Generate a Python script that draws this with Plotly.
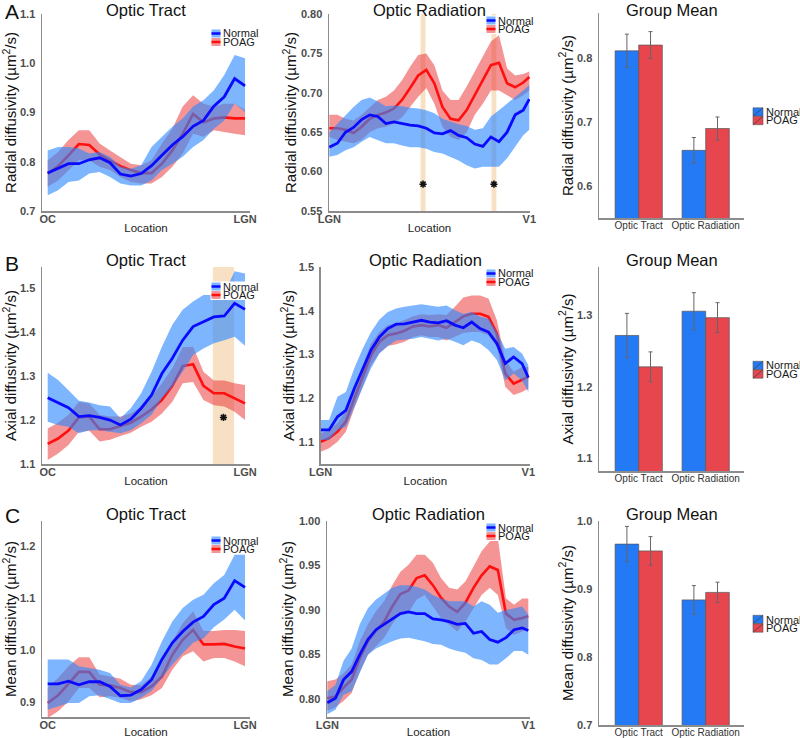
import plotly.graph_objects as go

W, H = 800, 738
FONT = "Liberation Sans, Arial, Helvetica, sans-serif"

# ------------------------------------------------------------------ data
groups = ["Normal", "POAG"]
regions = ["Optic Tract", "Optic Radiation"]
ot_nodes = list(range(1, 21))
or_nodes = [1, 5, 9, 13, 17, 21, 25, 29, 33, 37, 41, 45, 49, 53, 57, 61,
            65, 69, 73, 77, 81, 85, 89, 93, 97, 100]
ot_ticks = ["OC", "LGN"]
or_ticks = ["LGN", "V1"]
measure_names = ["Radial diffusivity", "Axial diffusivity", "Mean diffusivity"]
panel_letters = ["A", "B", "C"]
panel_titles = ["Optic Tract", "Optic Radiation", "Group Mean"]

# Radial diffusivity - optic tract
rd_ot_normal = [0.777, 0.786, 0.796, 0.796, 0.804, 0.808, 0.798, 0.775, 0.771, 0.776,
                0.792, 0.813, 0.834, 0.851, 0.872, 0.884, 0.913, 0.932, 0.969, 0.954]
rd_ot_normal_hi = [0.823, 0.830, 0.830, 0.827, 0.817, 0.820, 0.810, 0.790, 0.786, 0.793,
                   0.830, 0.851, 0.871, 0.888, 0.912, 0.925, 0.945, 0.976, 1.017, 1.010]
rd_ot_normal_lo = [0.732, 0.742, 0.759, 0.762, 0.776, 0.779, 0.769, 0.756, 0.752, 0.752,
                   0.762, 0.783, 0.796, 0.810, 0.830, 0.844, 0.867, 0.884, 0.918, 0.901]
rd_ot_poag = [0.776, 0.791, 0.813, 0.836, 0.834, 0.815, 0.803, 0.791, 0.783, 0.777,
              0.777, 0.796, 0.823, 0.857, 0.897, 0.880, 0.888, 0.890, 0.888, 0.888]
rd_ot_poag_hi = [0.803, 0.820, 0.844, 0.864, 0.864, 0.837, 0.823, 0.810, 0.796, 0.793,
                 0.803, 0.837, 0.867, 0.912, 0.935, 0.918, 0.912, 0.918, 0.918, 0.905]
rd_ot_poag_lo = [0.749, 0.762, 0.783, 0.803, 0.803, 0.790, 0.783, 0.769, 0.759, 0.756,
                 0.756, 0.769, 0.790, 0.817, 0.857, 0.851, 0.864, 0.861, 0.857, 0.854]

# Radial diffusivity - optic radiation
rd_or_normal = [0.631, 0.636, 0.650, 0.656, 0.666, 0.672, 0.670, 0.661, 0.663, 0.661, 0.659, 0.658, 0.655,
                0.649, 0.648, 0.652, 0.646, 0.643, 0.635, 0.632, 0.644, 0.638, 0.650, 0.672, 0.678, 0.692]
rd_or_normal_hi = [0.650, 0.661, 0.672, 0.682, 0.691, 0.694, 0.689, 0.683, 0.684, 0.683, 0.681, 0.680, 0.678,
                   0.674, 0.667, 0.663, 0.660, 0.658, 0.653, 0.655, 0.670, 0.678, 0.686, 0.695, 0.703, 0.710]
rd_or_normal_lo = [0.619, 0.621, 0.627, 0.631, 0.638, 0.644, 0.640, 0.636, 0.636, 0.633, 0.631, 0.631, 0.629,
                   0.625, 0.623, 0.619, 0.614, 0.608, 0.604, 0.606, 0.606, 0.606, 0.617, 0.631, 0.646, 0.653]
rd_or_poag = [0.655, 0.655, 0.653, 0.649, 0.657, 0.667, 0.672, 0.675, 0.680, 0.691, 0.706, 0.722, 0.729,
              0.712, 0.682, 0.667, 0.665, 0.678, 0.697, 0.717, 0.735, 0.738, 0.712, 0.707, 0.713, 0.720]
rd_or_poag_hi = [0.672, 0.672, 0.667, 0.665, 0.672, 0.682, 0.691, 0.695, 0.703, 0.716, 0.733, 0.748, 0.750,
                 0.735, 0.703, 0.691, 0.691, 0.708, 0.727, 0.746, 0.765, 0.773, 0.731, 0.722, 0.724, 0.727]
rd_or_poag_lo = [0.644, 0.640, 0.638, 0.636, 0.640, 0.650, 0.655, 0.657, 0.661, 0.669, 0.682, 0.695, 0.706,
                 0.686, 0.657, 0.644, 0.640, 0.650, 0.672, 0.686, 0.703, 0.703, 0.697, 0.691, 0.697, 0.703]

# Axial diffusivity - optic tract
ad_ot_normal = [1.251, 1.240, 1.228, 1.208, 1.210, 1.206, 1.200, 1.189, 1.202, 1.227,
                1.257, 1.306, 1.341, 1.382, 1.413, 1.424, 1.435, 1.437, 1.466, 1.452]
ad_ot_normal_hi = [1.308, 1.291, 1.268, 1.244, 1.240, 1.234, 1.231, 1.204, 1.227, 1.261,
                   1.310, 1.367, 1.417, 1.451, 1.470, 1.485, 1.485, 1.489, 1.539, 1.534]
ad_ot_normal_lo = [1.196, 1.189, 1.185, 1.170, 1.177, 1.177, 1.174, 1.170, 1.177, 1.193,
                   1.212, 1.250, 1.276, 1.310, 1.348, 1.363, 1.375, 1.382, 1.390, 1.369]
ad_ot_poag = [1.146, 1.158, 1.176, 1.206, 1.208, 1.179, 1.179, 1.187, 1.194, 1.208,
              1.224, 1.246, 1.278, 1.323, 1.327, 1.278, 1.261, 1.261, 1.250, 1.238]
ad_ot_poag_hi = [1.181, 1.194, 1.212, 1.242, 1.238, 1.212, 1.208, 1.208, 1.215, 1.231,
                 1.253, 1.284, 1.318, 1.366, 1.367, 1.310, 1.290, 1.290, 1.284, 1.280]
ad_ot_poag_lo = [1.109, 1.124, 1.143, 1.173, 1.176, 1.151, 1.155, 1.164, 1.171, 1.185,
                 1.196, 1.215, 1.242, 1.284, 1.287, 1.246, 1.234, 1.231, 1.219, 1.200]

# Axial diffusivity - optic radiation
ad_or_normal = [1.127, 1.127, 1.157, 1.172, 1.222, 1.268, 1.310, 1.340, 1.359, 1.369, 1.370, 1.374, 1.378,
                1.374, 1.372, 1.377, 1.367, 1.361, 1.374, 1.359, 1.351, 1.325, 1.279, 1.294, 1.279, 1.247]
ad_or_normal_hi = [1.150, 1.150, 1.203, 1.214, 1.268, 1.313, 1.351, 1.380, 1.397, 1.405, 1.409, 1.412, 1.415,
                   1.412, 1.409, 1.412, 1.401, 1.393, 1.397, 1.386, 1.382, 1.351, 1.313, 1.317, 1.302, 1.275]
ad_or_normal_lo = [1.104, 1.104, 1.127, 1.134, 1.180, 1.222, 1.268, 1.302, 1.319, 1.332, 1.334, 1.336, 1.340,
                   1.336, 1.332, 1.336, 1.329, 1.321, 1.332, 1.325, 1.310, 1.287, 1.241, 1.256, 1.241, 1.214]
ad_or_poag = [1.100, 1.108, 1.123, 1.146, 1.199, 1.249, 1.298, 1.329, 1.344, 1.348, 1.354, 1.364, 1.367,
              1.364, 1.367, 1.361, 1.374, 1.387, 1.393, 1.393, 1.386, 1.348, 1.256, 1.233, 1.242, 1.249]
ad_or_poag_hi = [1.119, 1.127, 1.143, 1.169, 1.222, 1.275, 1.325, 1.351, 1.367, 1.370, 1.378, 1.387, 1.392,
                 1.390, 1.392, 1.390, 1.409, 1.430, 1.435, 1.435, 1.428, 1.378, 1.287, 1.260, 1.271, 1.271]
ad_or_poag_lo = [1.077, 1.085, 1.100, 1.123, 1.176, 1.226, 1.275, 1.303, 1.319, 1.323, 1.329, 1.340, 1.344,
                 1.340, 1.340, 1.332, 1.340, 1.349, 1.351, 1.351, 1.344, 1.317, 1.226, 1.207, 1.214, 1.222]

# Mean diffusivity - optic tract
md_ot_normal = [0.935, 0.935, 0.940, 0.933, 0.939, 0.939, 0.930, 0.912, 0.913, 0.924,
                0.943, 0.982, 1.014, 1.036, 1.054, 1.065, 1.088, 1.100, 1.134, 1.121]
md_ot_normal_hi = [0.982, 0.982, 0.982, 0.969, 0.966, 0.962, 0.956, 0.933, 0.928, 0.940,
                   0.972, 1.017, 1.055, 1.081, 1.097, 1.107, 1.129, 1.145, 1.184, 1.184]
md_ot_normal_lo = [0.885, 0.892, 0.898, 0.898, 0.911, 0.913, 0.906, 0.898, 0.898, 0.908,
                   0.921, 0.946, 0.972, 0.994, 1.014, 1.023, 1.044, 1.059, 1.078, 1.057]
md_ot_poag = [0.898, 0.913, 0.935, 0.958, 0.958, 0.933, 0.932, 0.927, 0.919, 0.919,
              0.930, 0.949, 0.991, 1.020, 1.039, 1.011, 1.011, 1.012, 1.007, 1.003]
md_ot_poag_hi = [0.928, 0.946, 0.969, 0.986, 0.986, 0.953, 0.949, 0.945, 0.933, 0.932,
                 0.948, 0.975, 1.017, 1.052, 1.075, 1.037, 1.037, 1.039, 1.039, 1.037]
md_ot_poag_lo = [0.869, 0.882, 0.901, 0.927, 0.927, 0.909, 0.911, 0.908, 0.901, 0.905,
                 0.913, 0.927, 0.962, 0.988, 0.998, 0.978, 0.985, 0.985, 0.978, 0.969]

# Mean diffusivity - optic radiation
md_or_normal = [0.796, 0.801, 0.822, 0.831, 0.850, 0.867, 0.878, 0.884, 0.890, 0.896, 0.898, 0.896, 0.896,
                0.890, 0.889, 0.887, 0.884, 0.885, 0.874, 0.876, 0.867, 0.864, 0.869, 0.878, 0.880, 0.877]
md_or_normal_hi = [0.809, 0.816, 0.843, 0.857, 0.884, 0.902, 0.912, 0.919, 0.925, 0.928, 0.928, 0.926, 0.923,
                   0.917, 0.913, 0.910, 0.910, 0.910, 0.904, 0.910, 0.906, 0.897, 0.900, 0.902, 0.904, 0.895]
md_or_normal_lo = [0.783, 0.788, 0.805, 0.809, 0.829, 0.850, 0.857, 0.861, 0.865, 0.868, 0.869, 0.867, 0.865,
                   0.862, 0.861, 0.857, 0.854, 0.852, 0.846, 0.844, 0.839, 0.839, 0.846, 0.854, 0.854, 0.850]
md_or_poag = [0.801, 0.803, 0.813, 0.822, 0.846, 0.865, 0.877, 0.887, 0.904, 0.918, 0.922, 0.936, 0.939,
              0.928, 0.914, 0.904, 0.898, 0.908, 0.925, 0.939, 0.949, 0.945, 0.896, 0.889, 0.891, 0.893]
md_or_poag_hi = [0.820, 0.822, 0.829, 0.839, 0.865, 0.884, 0.899, 0.910, 0.928, 0.943, 0.951, 0.962, 0.962,
                 0.953, 0.936, 0.925, 0.923, 0.932, 0.949, 0.966, 0.977, 0.981, 0.913, 0.906, 0.913, 0.913]
md_or_poag_lo = [0.787, 0.791, 0.798, 0.807, 0.831, 0.850, 0.859, 0.869, 0.884, 0.897, 0.897, 0.912, 0.917,
                 0.904, 0.891, 0.884, 0.876, 0.887, 0.902, 0.917, 0.925, 0.917, 0.880, 0.872, 0.876, 0.880]

# Group means (bars) with error bars
rd_bar_normal = [0.811, 0.656]
rd_bar_normal_err = [0.026, 0.020]
rd_bar_poag = [0.820, 0.690]
rd_bar_poag_err = [0.021, 0.018]
ad_bar_normal = [1.272, 1.306]
ad_bar_normal_err = [0.031, 0.026]
ad_bar_poag = [1.228, 1.297]
ad_bar_poag_err = [0.021, 0.021]
md_bar_normal = [0.966, 0.884]
md_bar_normal_err = [0.026, 0.021]
md_bar_poag = [0.956, 0.895]
md_bar_poag_err = [0.021, 0.015]

# Significant locations (node ranges) and asterisk heights
rd_or_sig_start = [46.2, 81.3]
rd_or_sig_end = [48.6, 83.7]
rd_or_star_y = [0.584, 0.584]
ad_ot_sig_start = [16.9]
ad_ot_sig_end = [18.95]
ad_ot_star_y = [1.206]

# ------------------------------------------------------------------ style
BLUE = "#0a0aff"
RED = "#ff1010"
BLUE_BAND = "rgba(45,135,255,0.62)"
RED_BAND = "rgba(235,60,60,0.55)"
BAR_BLUE = "#2479f5"
BAR_RED = "#e8464f"
SIG = "#f7e0c3"
AX = "#8c8c8c"
TICK = "#4d4d4d"


def fx(p):
    return p / W


def fy(p):
    return 1 - p / H


# pixel boxes (left, right, top, bottom) for each panel
geom = [
    [(42, 250, 14, 211), (329, 530, 14, 211), (599, 744, 13, 218)],
    [(42, 250, 267, 464), (320.7, 530, 267, 464), (599, 744, 267, 471)],
    [(42, 250, 521, 717), (327, 530, 521, 717), (599, 744, 521, 725)],
]
xranges = [
    [[0.451, 20.48], [0.85, 100.35], [-0.593, 1.572]],
    [[0.451, 20.48], [1.0, 100.8], [-0.593, 1.572]],
    [[0.451, 20.48], [0.85, 100.84], [-0.593, 1.572]],
]
yranges = [
    [[0.7, 1.1], [0.55, 0.80], [0.5506, 0.870]],
    [[1.1, 1.5486], [1.049, 1.5], [1.082, 1.368]],
    [[0.871, 1.249], [0.780, 1.0], [0.7, 1.0]],
]
yticks = [
    [[0.7, 0.8, 0.9, 1.0, 1.1], [0.55, 0.60, 0.65, 0.70, 0.75, 0.80], [0.6, 0.7, 0.8]],
    [[1.1, 1.2, 1.3, 1.4, 1.5], [1.1, 1.2, 1.3, 1.4, 1.5], [1.1, 1.2, 1.3]],
    [[0.9, 1.0, 1.1, 1.2], [0.80, 0.85, 0.90, 0.95, 1.00], [0.7, 0.8, 0.9, 1.0]],
]
yfmt = [[".1f", ".2f", ".1f"], [".1f", ".1f", ".1f"], [".1f", ".2f", ".1f"]]
ystandoff = [[1, 0, 0], [1, 0, 0], [1, 1, 0]]

line_data = [
    [(rd_ot_normal, rd_ot_normal_lo, rd_ot_normal_hi, rd_ot_poag, rd_ot_poag_lo, rd_ot_poag_hi),
     (rd_or_normal, rd_or_normal_lo, rd_or_normal_hi, rd_or_poag, rd_or_poag_lo, rd_or_poag_hi)],
    [(ad_ot_normal, ad_ot_normal_lo, ad_ot_normal_hi, ad_ot_poag, ad_ot_poag_lo, ad_ot_poag_hi),
     (ad_or_normal, ad_or_normal_lo, ad_or_normal_hi, ad_or_poag, ad_or_poag_lo, ad_or_poag_hi)],
    [(md_ot_normal, md_ot_normal_lo, md_ot_normal_hi, md_ot_poag, md_ot_poag_lo, md_ot_poag_hi),
     (md_or_normal, md_or_normal_lo, md_or_normal_hi, md_or_poag, md_or_poag_lo, md_or_poag_hi)],
]
bar_data = [
    (rd_bar_normal, rd_bar_normal_err, rd_bar_poag, rd_bar_poag_err),
    (ad_bar_normal, ad_bar_normal_err, ad_bar_poag, ad_bar_poag_err),
    (md_bar_normal, md_bar_normal_err, md_bar_poag, md_bar_poag_err),
]
sig_data = {
    (0, 1): (rd_or_sig_start, rd_or_sig_end, rd_or_star_y),
    (1, 0): (ad_ot_sig_start, ad_ot_sig_end, ad_ot_star_y),
}

fig = go.Figure()
shapes = []
annotations = []
layout_axes = {}

for r in range(3):
    for c in range(3):
        idx = r * 3 + c + 1
        xs = "" if idx == 1 else str(idx)
        xa, ya = "x" + xs, "y" + xs
        L, R, T, B = geom[r][c]

        # ---- axes
        xaxis = dict(
            domain=[fx(L), fx(R)], range=xranges[r][c], anchor=ya, automargin=False,
            showline=True, linecolor=AX, linewidth=1.5, showgrid=False, zeroline=False,
            ticks="", ticklabelstandoff=-3,
            tickfont=dict(family=FONT, size=11, color=TICK, weight="bold"),
            fixedrange=True,
        )
        yaxis = dict(
            domain=[fy(B), fy(T)], range=yranges[r][c], anchor=xa, automargin=False,
            showline=True, linecolor=AX, linewidth=1.5, showgrid=False, zeroline=False,
            ticks="", ticklabelstandoff=3,
            tickvals=yticks[r][c], tickformat=yfmt[r][c],
            tickfont=dict(family=FONT, size=11, color=TICK, weight="bold"),
            title=dict(text=f"{measure_names[r]} (µm<sup>2</sup>/s)",
                       font=dict(family=FONT, size=15, color="#111"),
                       standoff=ystandoff[r][c]),
            fixedrange=True,
        )
        if c < 2:
            nodes = ot_nodes if c == 0 else or_nodes
            labels = ot_ticks if c == 0 else or_ticks
            xaxis.update(tickvals=[nodes[0], nodes[-1]], ticktext=labels,
                         title=dict(text="Location", font=dict(family=FONT, size=11.5, color="#222"),
                                    standoff=0))
        else:
            xaxis.update(type="category", categoryorder="array", categoryarray=regions,
                         tickfont=dict(family=FONT, size=10, color="#333"))
        layout_axes["xaxis" + xs] = xaxis
        layout_axes["yaxis" + xs] = yaxis

        # ---- panel title
        ty = T - 7 if r > 0 else 10
        annotations.append(dict(
            text=panel_titles[c], x=fx((L + R) / 2), y=fy(ty), xref="paper", yref="paper",
            xanchor="center", yanchor="middle", showarrow=False,
            font=dict(family=FONT, size=16.5, color="#111")))

        if c < 2:
            nodes = ot_nodes if c == 0 else or_nodes
            nm, nlo, nhi, pm, plo, phi = line_data[r][c]

            # significance shading
            if (r, c) in sig_data:
                s0, s1, sy = sig_data[(r, c)]
                for a, b in zip(s0, s1):
                    shapes.append(dict(type="rect", xref=xa, yref=ya + " domain",
                                       x0=a, x1=b, y0=0, y1=1, fillcolor=SIG,
                                       line=dict(width=0), layer="below"))

            fig.add_trace(go.Scatter(
                x=nodes + nodes[::-1], y=phi + plo[::-1], fill="toself", fillcolor=RED_BAND,
                mode="lines", line=dict(width=0), hoverinfo="skip", showlegend=False,
                xaxis=xa, yaxis=ya))
            fig.add_trace(go.Scatter(
                x=nodes, y=pm, mode="lines", line=dict(color=RED, width=2.6),
                name=groups[1], showlegend=False, xaxis=xa, yaxis=ya))
            fig.add_trace(go.Scatter(
                x=nodes + nodes[::-1], y=nhi + nlo[::-1], fill="toself", fillcolor=BLUE_BAND,
                mode="lines", line=dict(width=0), hoverinfo="skip", showlegend=False,
                xaxis=xa, yaxis=ya))
            fig.add_trace(go.Scatter(
                x=nodes, y=nm, mode="lines", line=dict(color=BLUE, width=2.8),
                name=groups[0], showlegend=False, xaxis=xa, yaxis=ya))

            if (r, c) in sig_data:
                s0, s1, sy = sig_data[(r, c)]
                fig.add_trace(go.Scatter(
                    x=[(a + b) / 2 for a, b in zip(s0, s1)], y=sy, mode="markers",
                    marker=dict(symbol="asterisk-open", size=6, color="#111",
                                line=dict(color="#111", width=1.6)),
                    hoverinfo="skip", showlegend=False, xaxis=xa, yaxis=ya))

            # in-panel legend (ggplot style key: ribbon box + line)
            if c == 0:
                sx0, cy = 211.5, T + 19.5
            else:
                sx0, cy = R - 43.5, T + 6.5
            sx1 = sx0 + 9
            rows_ = [(cy, BLUE_BAND, BLUE, groups[0]), (cy + 8.5, RED_BAND, RED, groups[1])]
            shapes.append(dict(type="rect", xref="paper", yref="paper",
                               x0=fx(sx0 - 1), x1=fx(sx0 + 47), y0=fy(cy - 5), y1=fy(cy + 13.5),
                               fillcolor="white", line=dict(width=0), layer="above"))
            for yy, bc, lc, nm_ in rows_:
                shapes.append(dict(type="rect", xref="paper", yref="paper",
                                   x0=fx(sx0), x1=fx(sx1), y0=fy(yy - 4), y1=fy(yy + 4),
                                   fillcolor=bc, line=dict(width=0), layer="above"))
                shapes.append(dict(type="line", xref="paper", yref="paper",
                                   x0=fx(sx0), x1=fx(sx1), y0=fy(yy), y1=fy(yy),
                                   line=dict(color=lc, width=2.5), layer="above"))
                annotations.append(dict(
                    text=nm_, x=fx(sx1 + 0.5), y=fy(yy), xref="paper", yref="paper",
                    xanchor="left", yanchor="middle", showarrow=False,
                    font=dict(family=FONT, size=11, color="#1a1a1a")))
        else:
            bn, bne, bp, bpe = bar_data[r]
            fig.add_trace(go.Bar(
                x=regions, y=bn, name=groups[0], marker=dict(color=BAR_BLUE, line=dict(color="#555", width=0.7)),
                error_y=dict(type="data", array=bne, color="#666", thickness=1, width=2),
                showlegend=False, xaxis=xa, yaxis=ya))
            fig.add_trace(go.Bar(
                x=regions, y=bp, name=groups[1], marker=dict(color=BAR_RED, line=dict(color="#555", width=0.7)),
                error_y=dict(type="data", array=bpe, color="#666", thickness=1, width=2),
                showlegend=False, xaxis=xa, yaxis=ya))
            # outside legend (ggplot style)
            cy = (T + B) / 2 - 3.5
            for k, (yy, col, nm_) in enumerate([(cy, BAR_BLUE, groups[0]), (cy + 8.5, BAR_RED, groups[1])]):
                shapes.append(dict(type="rect", xref="paper", yref="paper",
                                   x0=fx(753), x1=fx(763), y0=fy(yy - 4.2), y1=fy(yy + 4.2),
                                   fillcolor=col, line=dict(color="#555", width=0.6), layer="above"))
                shapes.append(dict(type="line", xref="paper", yref="paper",
                                   x0=fx(753), x1=fx(763), y0=fy(yy + 4.2), y1=fy(yy - 4.2),
                                   line=dict(color="#444", width=0.8), layer="above"))
                annotations.append(dict(
                    text=nm_, x=fx(763.5), y=fy(yy), xref="paper", yref="paper",
                    xanchor="left", yanchor="middle", showarrow=False,
                    font=dict(family=FONT, size=11, color="#1a1a1a")))

    # panel letter
    letter_y = [12, 263, 515][r]
    annotations.append(dict(
        text=panel_letters[r], x=fx(12), y=fy(letter_y), xref="paper", yref="paper",
        xanchor="center", yanchor="middle", showarrow=False,
        font=dict(family=FONT, size=21, color="#111")))

fig.update_layout(
    width=W, height=H,
    margin=dict(l=0, r=0, t=0, b=0, autoexpand=False),
    paper_bgcolor="white", plot_bgcolor="white",
    font=dict(family=FONT),
    barmode="group", bargap=0.295, bargroupgap=0,
    shapes=shapes, annotations=annotations,
    showlegend=False, hovermode=False,
    **layout_axes,
)

fig.write_html("out.html", config={"displayModeBar": False, "staticPlot": True},
               post_script="document.body.style.margin='0px';document.body.style.overflow='hidden';")
